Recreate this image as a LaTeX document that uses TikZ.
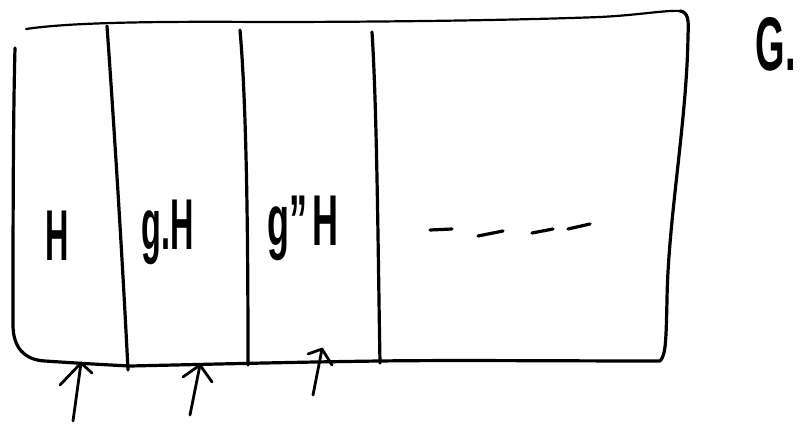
\documentclass[tikz,border=0pt]{standalone}
\usepackage{fontspec}
\setmainfont{Liberation Sans}
\begin{document}
\begin{tikzpicture}[x=1pt,y=-1pt,
  ink/.style={line width=3.2pt,line cap=round,line join=round,black},
  thinink/.style={line width=2.2pt,line cap=round,line join=round,black},
  lbl/.style={inner sep=0pt,font=\fontsize{72}{76}\selectfont\bfseries},
  arrowstroke/.style={line width=2.8pt,line cap=round,line join=round,black}]
\useasboundingbox[fill=white] (0,0) rectangle (803,423);
% outer frame
\draw[thinink] (26,29) .. controls (60,24) and (120,21) .. (260,22)
  .. controls (400,22) and (520,20) .. (600,17) .. controls (640,15) and (665,10) .. (680,11);
\draw[ink] (680,11) .. controls (688,12) and (689,20) .. (688,35)
  .. controls (687,120) and (668,220) .. (667,300)
  .. controls (666,340) and (666,355) .. (660,361)
  .. controls (560,361) and (450,360) .. (380,361)
  .. controls (300,362) and (220,364) .. (130,366)
  .. controls (90,364) and (60,362) .. (45,361)
  .. controls (25,360) and (13,348) .. (13,325)
  .. controls (13,250) and (13,120) .. (15,48);
% vertical lines
\draw[ink] (107,26) .. controls (113,110) and (122,250) .. (128,370);
\draw[ink] (240,30) .. controls (247,110) and (248,250) .. (248,365);
\draw[ink] (372,32) .. controls (377,110) and (378,250) .. (380,363);
% labels
\node[lbl] (h) at (57,236) {\scalebox{0.45}[1]{H}};
\node[lbl] (gh) at (168,232) {\scalebox{0.45}[1]{g.H}};
\node[lbl] (gsh) at (303,228) {\scalebox{0.5}[1]{g''\,H}};
\node[lbl,font=\fontsize{76}{80}\selectfont\bfseries] (G) at (776,44) {\scalebox{0.5}[1]{G.}};
% dashes
\draw[ink] (430,230) -- (452,229);
\draw[ink] (478,236) -- (503,231);
\draw[ink] (532,233) -- (553,229);
\draw[ink] (568,229) -- (590,224);
% arrows
\coordinate (t1) at (73,421); \coordinate (p1) at (81,363);
\coordinate (t2) at (190,415); \coordinate (p2) at (200,365);
\coordinate (t3) at (313,395); \coordinate (p3) at (322,349);
\draw[arrowstroke] (t1) -- (p1);
\draw[arrowstroke] (60,385) -- (p1) -- (92,373);
\draw[arrowstroke] (t2) -- (p2);
\draw[arrowstroke] (183,377) -- (p2) -- (212,382);
\draw[arrowstroke] (t3) -- (p3);
\draw[arrowstroke] (308,354) -- (p3) -- (332,365);
\end{tikzpicture}
\end{document}
